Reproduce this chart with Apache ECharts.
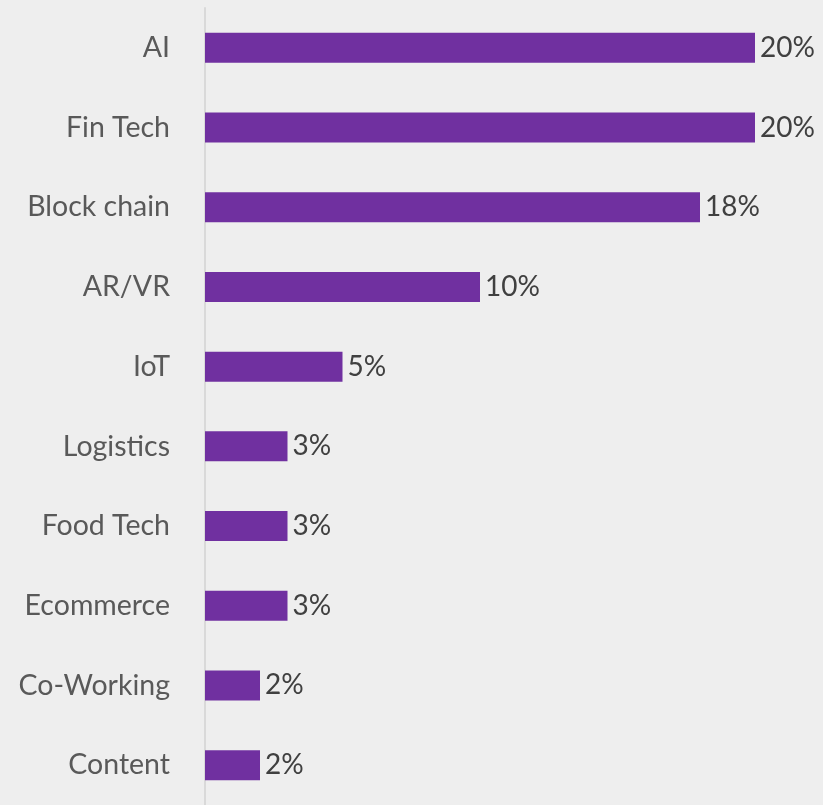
<!DOCTYPE html>
<html>
<head>
<meta charset="utf-8">
<script src="https://cdn.jsdelivr.net/npm/echarts@6/dist/echarts.min.js"></script>
<style>
  html, body { margin: 0; padding: 0; background: #eeeeee; }
  #chart { width: 823px; height: 805px; }
</style>
</head>
<body>
<div id="chart"></div>
<script>
// Sectors, listed top to bottom
const categories = ['AI', 'Fin Tech', 'Block chain', 'AR/VR', 'IoT', 'Logistics', 'Food Tech', 'Ecommerce', 'Co-Working', 'Content'];
// Share of startups per sector (%)
const shares = [20, 20, 18, 10, 5, 3, 3, 3, 2, 2];

const chart = echarts.init(document.getElementById('chart'));
chart.setOption({
  backgroundColor: '#eeeeee',
  animation: false,
  grid: { left: 205, right: 68, top: 8, bottom: 0 },
  xAxis: {
    type: 'value',
    min: 0,
    max: 20,
    show: false
  },
  yAxis: {
    type: 'category',
    data: categories,
    inverse: true,
    axisLine: { show: true, lineStyle: { color: '#d9d9d9', width: 2 } },
    axisTick: { show: false },
    axisLabel: {
      margin: 35,
      color: '#595959',
      fontSize: 28.5,
      fontFamily: 'Lato, "Open Sans", sans-serif'
    }
  },
  series: [{
    type: 'bar',
    data: shares,
    barWidth: 30,
    itemStyle: { color: '#7030a0' },
    label: {
      show: true,
      position: 'right',
      distance: 5,
      color: '#404040',
      fontSize: 28,
      fontFamily: 'Lato, "Open Sans", sans-serif',
      formatter: p => p.value + '%'
    }
  }]
});
</script>
</body>
</html>
